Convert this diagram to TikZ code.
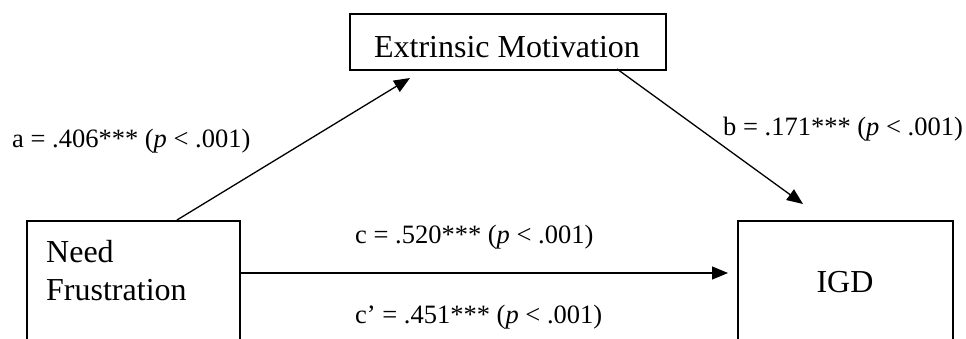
\documentclass[tikz,border=0pt]{standalone}
\usepackage{fontspec}
\setmainfont{Liberation Serif}
\usetikzlibrary{arrows.meta}
\begin{document}
\begin{tikzpicture}[x=1pt,y=-1pt,
  boxnode/.style={draw=black, line width=2.2pt, rectangle, inner sep=0pt},
  boxtext/.style={inner sep=0pt, font=\fontsize{32}{38}\selectfont},
  lbl/.style={inner sep=0pt, anchor=base west, font=\fontsize{26.5}{32}\selectfont},
  arr/.style={line width=1.3pt, -{Triangle[length=16pt,width=13pt]}}]
\useasboundingbox (0,0) rectangle (966,338);
\begin{scope}
\clip (0,0) rectangle (966,338);
\node[boxnode, minimum width=316pt, minimum height=56pt, anchor=north west] (em) at (349,13) {};
\node[boxtext, anchor=base] (emt) at (507,57) {Extrinsic Motivation};
\node[boxnode, minimum width=213pt, minimum height=180pt, anchor=north west] (nf) at (26,220) {};
\node[boxtext, anchor=base west] (nft1) at (46,262) {Need};
\node[boxtext, anchor=base west] (nft2) at (46,300) {Frustration};
\node[boxnode, minimum width=215pt, minimum height=180pt, anchor=north west] (igd) at (737,220) {};
\node[boxtext, anchor=base] (igdt) at (845,292) {IGD};
\end{scope}
\coordinate (atail) at (177,220);
\coordinate (ahead) at (410,78);
\coordinate (btail) at (617,69);
\coordinate (bhead) at (803,204);
\coordinate (ctail) at (239,273);
\coordinate (chead) at (728,273);
\draw[arr] (atail) -- (ahead);
\draw[arr] (btail) -- (bhead);
\draw[arr] (ctail) -- (chead);
\node[lbl] (la) at (12,147) {a = .406*** (\textit{p} {<} .001)};
\node[lbl] (lb) at (723,135) {b = .171*** (\textit{p} {<} .001)};
\node[lbl] (lc) at (355,243) {c = .520*** (\textit{p} {<} .001)};
\node[lbl] (lcp) at (355,323) {c’ = .451*** (\textit{p} {<} .001)};
\end{tikzpicture}
\end{document}
